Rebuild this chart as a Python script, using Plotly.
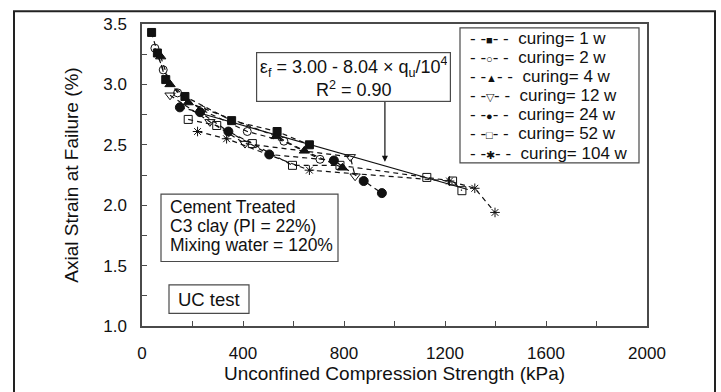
import plotly.graph_objects as go

# Unconfined compression strength (kPa) and axial strain at failure (%) per curing period
q_1w = [38, 61, 94, 170, 355, 535, 663]
e_1w = [3.43, 3.26, 3.04, 2.90, 2.70, 2.61, 2.50]

q_2w = [51, 84, 141, 236, 417, 562, 705]
e_2w = [3.30, 3.12, 2.93, 2.79, 2.61, 2.53, 2.38]

q_4w = [74, 111, 183, 531, 643, 794]
e_4w = [3.23, 3.00, 2.85, 2.57, 2.45, 2.31]

q_12w = [111, 269, 408, 825, 844]
e_12w = [2.91, 2.69, 2.51, 2.40, 2.24]

q_24w = [150, 230, 342, 504, 760, 878, 950]
e_24w = [2.81, 2.77, 2.61, 2.42, 2.37, 2.20, 2.10]

q_52w = [183, 296, 437, 596, 784, 1128, 1230, 1267]
e_52w = [2.71, 2.66, 2.51, 2.33, 2.33, 2.23, 2.20, 2.12]

q_104w = [220, 335, 663, 1218, 1318, 1398]
e_104w = [2.61, 2.55, 2.29, 2.20, 2.14, 1.94]

# Overall trend line
fit_q = [200, 1290]
fit_e = [2.78, 2.13]

series_names = ["curing= 1 w", "curing= 2 w", "curing= 4 w", "curing= 12 w",
                "curing= 24 w", "curing= 52 w", "curing= 104 w"]
series_q = [q_1w, q_2w, q_4w, q_12w, q_24w, q_52w, q_104w]
series_e = [e_1w, e_2w, e_4w, e_12w, e_24w, e_52w, e_104w]
symbols = ["square", "circle-open", "triangle-up", "triangle-down-open",
           "circle", "square-open", "asterisk-open"]
key_glyphs = ["■", "○", "▲", "▽", "●", "□", "✱"]
sizes = [8, 8, 9, 9, 9, 8, 8]

info_lines = ["Cement Treated", "C3 clay (PI = 22%)", "Mixing water = 120%"]

FONT = "Liberation Sans, Arial, sans-serif"
INK = "#111111"
EDGE = "#4a4a4a"

# plot area in pixels: left 142, right 647, top 24, bottom 333
PW, PH = 505.0, 309.0


def px(xp):
    return (xp - 142) / PW


def py(yp):
    return (333 - yp) / PH


fig = go.Figure()

fig.add_trace(go.Scatter(
    x=fit_q, y=fit_e, mode="lines",
    line=dict(color=INK, width=1.2), showlegend=False, hoverinfo="skip"))

for name, qs, es, sym, sz in zip(series_names, series_q, series_e, symbols, sizes):
    fig.add_trace(go.Scatter(
        x=qs, y=es, name=name, mode="lines+markers", showlegend=False,
        line=dict(color=INK, width=1.2, dash="5px,4px"),
        marker=dict(symbol=sym, size=sz, color=INK,
                    line=dict(color=INK, width=1)),
    ))

axis_common = dict(
    showline=True, linecolor=EDGE, linewidth=1.5, mirror=True,
    ticks="inside", ticklen=5, tickwidth=1, tickcolor=EDGE,
    showgrid=False, zeroline=False,
    tickfont=dict(family=FONT, size=17, color=INK),
)

fig.update_xaxes(
    range=[0, 2000], tickmode="linear", tick0=0, dtick=400,
    minor=dict(dtick=200, ticks="inside", ticklen=5, tickcolor=EDGE, showgrid=False),
    ticklabelstandoff=11,
    title=dict(text="Unconfined Compression Strength (kPa)",
               font=dict(family=FONT, size=19, color=INK), standoff=4),
    **axis_common)
fig.update_yaxes(
    range=[1.0, 3.5], tickmode="linear", tick0=1.0, dtick=0.5, tickformat=".1f",
    minor=dict(dtick=0.25, ticks="inside", ticklen=5, tickcolor=EDGE, showgrid=False),
    ticklabelstandoff=10,
    title=dict(text="Axial Strain at Failure (%)",
               font=dict(family=FONT, size=19, color=INK), standoff=20),
    **axis_common)

# Equation box with arrow pointing at the trend line
fig.add_annotation(
    x=px(353.5), y=py(78.5), xref="paper", yref="paper", xanchor="center", yanchor="middle",
    text="ε<sub>f</sub> = 3.00 - 8.04 × q<sub>u</sub>/10<sup>4</sup><br>R<sup>2</sup> = 0.90",
    showarrow=False, align="center",
    font=dict(family=FONT, size=18, color=INK),
    bordercolor=EDGE, borderwidth=1.2, borderpad=3, bgcolor="white",
    width=187, height=42)
fig.add_annotation(
    x=962, y=2.36, ax=962, ay=2.866, xref="x", yref="y", axref="x", ayref="y",
    showarrow=True, arrowhead=2, arrowsize=1, arrowwidth=1.2, arrowcolor=INK, text="")

# Material description box
fig.add_shape(type="rect", xref="paper", yref="paper",
              x0=px(161), x1=px(338), y0=py(267), y1=py(198),
              line=dict(color=EDGE, width=1.2), fillcolor="white")
for i, line in enumerate(info_lines):
    fig.add_annotation(
        x=px(168), y=py(211.5 + 19.5 * i), xref="paper", yref="paper",
        xanchor="left", yanchor="middle", text=line, showarrow=False,
        font=dict(family=FONT, size=17.5, color=INK))

# Test type box
fig.add_shape(type="rect", xref="paper", yref="paper",
              x0=px(169), x1=px(249), y0=py(320), y1=py(291),
              line=dict(color=EDGE, width=1.2), fillcolor="white")
fig.add_annotation(
    x=px(209), y=py(305.5), xref="paper", yref="paper", xanchor="center",
    yanchor="middle", text="UC test", showarrow=False,
    font=dict(family=FONT, size=18.5, color=INK))

# Series key
fig.add_shape(type="rect", xref="paper", yref="paper",
              x0=px(460), x1=px(639), y0=py(166), y1=py(28),
              line=dict(color=EDGE, width=1.2), fillcolor="white")
for i, (name, glyph) in enumerate(zip(series_names, key_glyphs)):
    fig.add_annotation(
        x=px(468), y=py(38.5 + 19.6 * i), xref="paper", yref="paper",
        xanchor="left", yanchor="middle", showarrow=False,
        text=(f'-&nbsp;-<span style="font-size:11px">{glyph}</span>'
              f'-&nbsp;-&nbsp;&nbsp;{name}'),
        font=dict(family=FONT, size=17, color=INK))

# Outer frame around the figure
fig.add_shape(type="rect", xref="paper", yref="paper",
              x0=px(14), x1=px(715), y0=py(420), y1=py(11),
              line=dict(color="#222222", width=2), layer="below")

fig.update_layout(
    width=721, height=392,
    margin=dict(l=142, r=74, t=24, b=59),
    paper_bgcolor="white", plot_bgcolor="white",
    font=dict(family=FONT, color=INK),
    showlegend=False,
)

fig.write_html("out.html")
